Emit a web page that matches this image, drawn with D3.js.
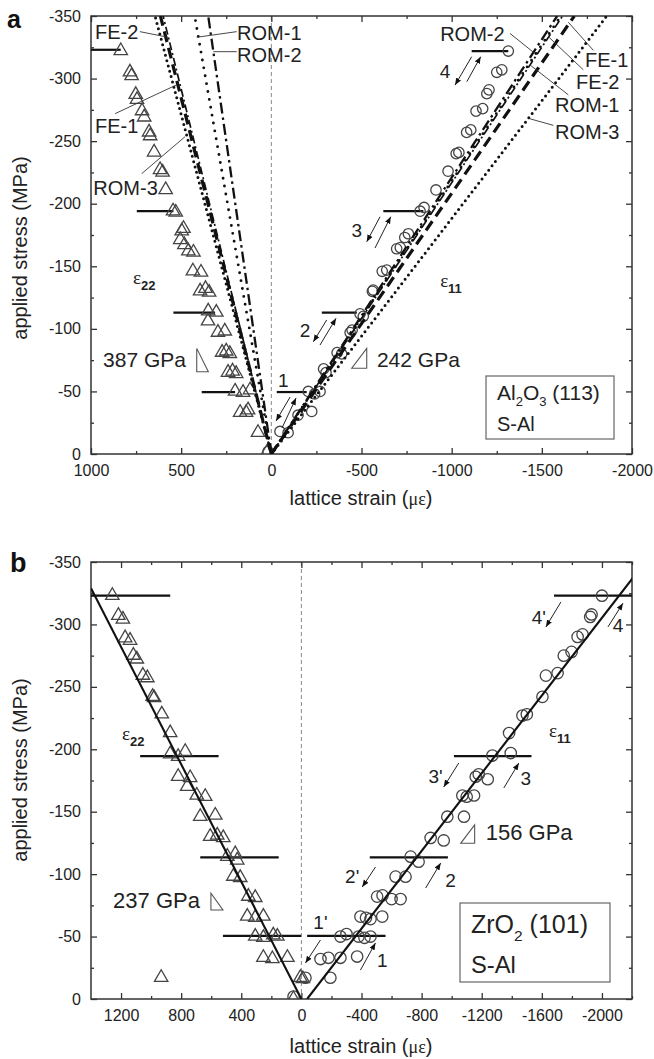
<!DOCTYPE html>
<html>
<head>
<meta charset="utf-8">
<script src="https://cdn.jsdelivr.net/npm/d3@7"></script>
<style>
body { margin: 0; background: #fff; }
svg { display: block; font-family: "Liberation Sans", Arial, sans-serif; }
</style>
</head>
<body>
<svg id="chart" width="654" height="1059"></svg>
<script>
// ---- panel a : Al2O3 (113), [strain (µε), stress (MPa)] ----
let a22 = [[835,-323],[784,-306],[775,-303],[752,-288],[745,-284],[717,-275],[705,-270],
    [678,-258],[672,-255],[650,-242],[617,-228],[603,-226],[586,-212],[545,-195],[530,-194],
    [497,-179],[487,-181],[505,-172],[482,-168],[460,-163],[432,-162],[435,-147],[390,-146],
    [395,-131],[345,-130],[365,-133],[350,-115],[305,-114],[351,-107],[296,-98],[258,-99],
    [273,-82],[230,-81],[250,-83],[240,-66],[195,-65],[215,-67],[201,-51],[157,-50],[118,-52],
    [173,-34],[140,-34],[129,-36],[74,-18],[25,-2]]
let a11 = [[18,-2],[-48,-18],[-93,-17],[-148,-31],[-224,-34],[-205,-50],[-270,-50],[-240,-48],
    [-303,-65],[-290,-68],[-365,-81],[-390,-80],[-437,-97],[-448,-99],[-492,-112],[-510,-110],
    [-560,-130],[-565,-131],[-615,-146],[-640,-147],[-695,-164],[-715,-165],[-740,-173],[-760,-176],
    [-825,-194],[-847,-197],[-913,-211],[-980,-226],[-1025,-240],[-1040,-241],[-1083,-257],[-1106,-259],
    [-1135,-274],[-1172,-276],[-1195,-288],[-1207,-291],[-1250,-305],[-1278,-307],[-1314,-322]]

// model predictions: strain reached at -350 MPa, left (e22) and right (e11)
let predNames = ['ROM-3', 'FE-1', 'FE-2', 'ROM-1', 'ROM-2']
let predE22 = [645, 615, 600, 425, 350]
let predE11 = [-1860, -1680, -1615, -1605, -1585]

// load levels: [stress, strain from, strain to]
let aLevels = [[-323,1000,835],[-194,746,543],[-113,543,312],[-49.5,386,201],
    [-49.5,-30,-196],[-113,-280,-474],[-194,-621,-843],[-322,-1111,-1314]]

// ---- panel b : ZrO2 (101) ----
let b22 = [[1258,-324],[1218,-308],[1188,-305],[1173,-290],[1140,-288],[1118,-276],[1095,-273],
    [1055,-260],[1025,-258],[990,-243],[980,-242],[929,-229],[873,-214],[873,-197],[820,-195],
    [773,-199],[820,-179],[740,-178],[760,-171],[696,-164],[640,-163],[673,-147],[573,-148],
    [607,-131],[560,-132],[520,-130],[493,-115],[440,-117],[427,-112],[453,-99],[407,-98],
    [353,-83],[307,-82],[360,-67],[307,-66],[253,-67],[307,-51],[253,-50],[187,-52],[160,-51],
    [253,-34],[193,-33],[93,-34],[933,-18],[7,-18],[-10,-17],[53,-1]]
let b11 = [[52,-2],[-27,-17],[-193,-17],[-127,-32],[-180,-33],[-260,-33],[-371,-34],
    [-260,-50],[-300,-52],[-380,-50],[-420,-49],[-460,-50],[-393,-66],[-430,-65],[-460,-64],[-538,-66],
    [-504,-82],[-540,-83],[-600,-80],[-660,-80],[-627,-98],[-693,-98],[-727,-114],[-780,-110],
    [-860,-129],[-947,-127],[-971,-146],[-1082,-146],[-1071,-163],[-1149,-163],[-1100,-162],
    [-1160,-178],[-1240,-176],[-1180,-180],[-1271,-195],[-1393,-197],[-1382,-213],[-1471,-227],
    [-1500,-228],[-1604,-242],[-1627,-259],[-1705,-261],[-1746,-275],[-1798,-278],[-1838,-290],
    [-1871,-292],[-1922,-306],[-1931,-308],[-2000,-323]]

// linear fits [strain, stress] end points
let bFit22 = [[0,0],[1400,-329]]
let bFit11 = [[-38,0],[-2210,-338]]

let bLevels = [[-323,1400,873],[-194.6,1073,551],[-113.5,673,151],[-50.5,522,2],
    [-50.5,-38,-560],[-113.5,-455,-975],[-194.6,-1015,-1531],[-323,-1681,-2200]]

// arrows [x1, y1, x2, y2] in data units, labels [text, x, y]
let aArrows = [[-104,-45.5,-26,-26.4],[-59,-20.8,-137,-44.7],[-307,-107.1,-233,-89.7],[-270,-87.1,-359,-108.4],
    [-603,-189.6,-529,-169.6],[-575,-164.6,-662,-189.6],[-1111,-317.5,-1019,-294.8],[-1084,-297.5,-1161,-317.5]]
let aArrowText = [['1',-66,-59],['2',-187,-99],['3',-474,-179],['4',-963,-305.5]]
let bArrows = [[-127,-47.3,-27,-28.8],[-393,-23.2,-493,-44.9],[-493,-105.7,-405,-89.7],[-827,-88.9,-927,-108.9],
    [-1047,-189,-947,-169.8],[-1347,-169,-1447,-189],[-1727,-318,-1627,-298],[-2040,-298,-2140,-317]]
let bArrowText = [["1'",-127,-61],['1',-538,-31],["2'",-338,-98],['2',-993,-95],
    ["3'",-893,-178],['3',-1493,-177],["4'",-1580,-306],['4',-2107,-299.5]]

let L = 91, R = 632
let svg = d3.select('#chart')
let defs = svg.append('defs')
defs.append('marker')
    .attr('id', 'head')
    .attr('viewBox', '0 0 10 10')
    .attr('refX', 10).attr('refY', 5)
    .attr('markerWidth', 7).attr('markerHeight', 7)
    .attr('markerUnits', 'userSpaceOnUse')
    .attr('orient', 'auto')
    .append('path').attr('d', 'M0,1L10,5L0,9Z').attr('fill', '#111')

let triangle = d3.symbol().type(d3.symbolTriangle).size(78)

function drawPanel(p) {
    let x = d3.scaleLinear().domain(p.xDomain).range([L, R])
    let y = d3.scaleLinear().domain([0, -350]).range([p.bottom, p.top])
    let g = svg.append('g')

    defs.append('clipPath').attr('id', 'clip-' + p.id)
        .append('rect').attr('x', L).attr('y', p.top).attr('width', R - L).attr('height', p.bottom - p.top)

    // dashed zero line
    g.append('line')
        .attr('x1', x(0)).attr('x2', x(0)).attr('y1', p.top).attr('y2', p.bottom)
        .attr('stroke', '#888').attr('stroke-width', 1).attr('stroke-dasharray', '4,3')

    // axes, ticks inward
    let yMajor = d3.range(-350, 1, 50), yMinor = d3.range(-325, 0, 50)
    let axes = [
        [d3.axisBottom(x).tickValues(p.xMajor).tickSize(-6).tickPadding(11).tickFormat(d => String(d)), p.bottom],
        [d3.axisBottom(x).tickValues(p.xMinor).tickSize(-3).tickFormat(''), p.bottom],
        [d3.axisTop(x).tickValues(p.xMajor).tickSize(-6).tickFormat(''), p.top],
        [d3.axisTop(x).tickValues(p.xMinor).tickSize(-3).tickFormat(''), p.top]
    ]
    axes.forEach(function(a) {
        g.append('g').attr('transform', 'translate(0,' + a[1] + ')').call(a[0])
    })
    let yAxes = [
        [d3.axisLeft(y).tickValues(yMajor).tickSize(-6).tickPadding(10).tickFormat(d => String(d)), L],
        [d3.axisLeft(y).tickValues(yMinor).tickSize(-3).tickFormat(''), L],
        [d3.axisRight(y).tickValues(yMajor).tickSize(-6).tickFormat(''), R],
        [d3.axisRight(y).tickValues(yMinor).tickSize(-3).tickFormat(''), R]
    ]
    yAxes.forEach(function(a) {
        g.append('g').attr('transform', 'translate(' + a[1] + ',0)').call(a[0])
    })
    g.selectAll('.domain').remove()
    g.selectAll('.tick line').attr('stroke', '#333').attr('stroke-width', 1.3)
    g.selectAll('.tick text').attr('font-size', 16).attr('fill', '#222').attr('font-family', '"Liberation Sans", Arial, sans-serif')

    g.append('rect')
        .attr('x', L).attr('y', p.top).attr('width', R - L).attr('height', p.bottom - p.top)
        .attr('fill', 'none').attr('stroke', '#333').attr('stroke-width', 1.5)

    let plot = g.append('g').attr('clip-path', 'url(#clip-' + p.id + ')')

    // load levels
    plot.selectAll('line.level').data(p.levels).enter().append('line')
        .attr('x1', d => x(d[1])).attr('x2', d => x(d[2]))
        .attr('y1', d => y(d[0])).attr('y2', d => y(d[0]))
        .attr('stroke', '#111').attr('stroke-width', 2.2)

    // markers
    plot.selectAll('path.tri').data(p.e22).enter().append('path')
        .attr('d', triangle)
        .attr('transform', d => 'translate(' + x(d[0]) + ',' + (y(d[1]) + 1) + ')')
        .attr('fill', 'none').attr('stroke', '#444').attr('stroke-width', 1.3)
    plot.selectAll('circle.pt').data(p.e11).enter().append('circle')
        .attr('cx', d => x(d[0])).attr('cy', d => y(d[1])).attr('r', p.r)
        .attr('fill', 'none').attr('stroke', '#444').attr('stroke-width', 1.3)

    // arrows
    g.selectAll('line.arrow').data(p.arrows).enter().append('line')
        .attr('x1', d => x(d[0])).attr('y1', d => y(d[1]))
        .attr('x2', d => x(d[2])).attr('y2', d => y(d[3]))
        .attr('stroke', '#222').attr('stroke-width', 1)
        .attr('marker-end', 'url(#head)')
    g.selectAll('text.arrow').data(p.arrowText).enter().append('text')
        .attr('x', d => x(d[1])).attr('y', d => y(d[2]))
        .attr('text-anchor', 'middle').attr('dy', '0.35em')
        .attr('font-size', 19).attr('fill', '#222')
        .text(d => d[0])

    return {g: g, plot: plot, x: x, y: y}
}

function epsLabel(g, px, py, sub) {
    let t = g.append('text').attr('x', px).attr('y', py).attr('fill', '#222')
    t.append('tspan').attr('font-family', '"Liberation Serif", "Times New Roman", serif').attr('font-size', 19).text('ε')
    t.append('tspan').attr('dy', 6).attr('font-size', 13).attr('font-weight', 'bold').text(sub)
}

function gpaLabel(g, px, py, label, size, tri) {
    g.append('text').attr('x', px).attr('y', py).attr('font-size', size).attr('fill', '#222').text(label)
    g.append('path').attr('d', d3.line()(tri) + 'Z')
        .attr('fill', 'none').attr('stroke', '#555').attr('stroke-width', 1.1)
}

function legendBox(g, x0, y0, w, h, main, size) {
    g.append('rect').attr('x', x0).attr('y', y0).attr('width', w).attr('height', h)
        .attr('fill', '#fff').attr('stroke', '#666').attr('stroke-width', 1.2)
    let t = g.append('text').attr('x', x0 + 11).attr('y', y0 + h * 0.38).attr('font-size', size).attr('fill', '#222')
    main.forEach(function(part) {
        if (part[1]) t.append('tspan').attr('font-size', size * 0.62).attr('dy', size * 0.3).text(part[0])
        else t.append('tspan').attr('dy', part[2] || 0).text(part[0])
    })
    g.append('text').attr('x', x0 + 11).attr('y', y0 + h * 0.88).attr('font-size', size * 0.95).attr('fill', '#222').text('S-Al')
}

function axisTitles(yCenter, xBase) {
    svg.append('text')
        .attr('transform', 'translate(27,' + yCenter + ') rotate(-90)')
        .attr('text-anchor', 'middle').attr('font-size', 20).attr('fill', '#222')
        .text('applied stress (MPa)')
    let t = svg.append('text').attr('x', 361).attr('y', xBase).attr('text-anchor', 'middle').attr('font-size', 20).attr('fill', '#222')
    t.append('tspan').text('lattice strain (')
    t.append('tspan').attr('font-family', '"Liberation Serif", "Times New Roman", serif').attr('font-size', 18).text('με')
    t.append('tspan').text(')')
}

// ---------------- panel a ----------------
let pa = drawPanel({
    id: 'a', top: 16, bottom: 454, xDomain: [1000, -2000],
    xMajor: d3.range(1000, -2001, -500), xMinor: d3.range(750, -1800, -500),
    levels: aLevels, e22: a22, e11: a11, r: 5.2, arrows: aArrows, arrowText: aArrowText
})

let predStyle = {
    'ROM-3': {dash: '0,5.5', w: 3, cap: 'round'},
    'FE-1': {dash: '11,6', w: 3.2, cap: 'butt'},
    'FE-2': {dash: '8,3,2,3', w: 1.7, cap: 'butt'},
    'ROM-1': {dash: '0,8', w: 2.9, cap: 'round'},
    'ROM-2': {dash: '11,4,2.5,4', w: 2.3, cap: 'butt'}
}
let predLine = d3.line().x(d => pa.x(d[0])).y(d => pa.y(d[1]))
predNames.forEach(function(name, i) {
    let s = predStyle[name]
    ;[[[0, 0], [predE22[i], -350]], [[0, 0], [predE11[i], -350]]].forEach(function(pts) {
        pa.plot.append('path').attr('d', predLine(pts))
            .attr('fill', 'none').attr('stroke', '#111')
            .attr('stroke-width', s.w).attr('stroke-dasharray', s.dash).attr('stroke-linecap', s.cap)
    })
})

// line labels with leaders: [text, x, y, leader from, leader to]
let aNotes = [
    ['FE-2', 978, -332, [729, -337.5], [572, -333]],
    ['ROM-1', 190, -330.5, [192, -337.5], [414, -333]],
    ['ROM-2', 190, -313, [192, -321.5], [322, -321.5]],
    ['FE-1', 978, -256.5, [866, -272], [525, -295]],
    ['ROM-3', 987, -207, [719, -224], [479, -253.5]],
    ['ROM-2', -936, -330.3, [-1324, -336], [-1462, -320]],
    ['FE-1', -1739, -309.3, [-1647, -345], [-1786, -322.5]],
    ['FE-2', -1690, -291.7, [-1536, -333.5], [-1730, -307]],
    ['ROM-1', -1573, -273.5, [-1435, -310.8], [-1647, -287]],
    ['ROM-3', -1573, -251.7, [-1431, -268], [-1564, -262.6]]
]
aNotes.forEach(function(n) {
    pa.g.append('line')
        .attr('x1', pa.x(n[3][0])).attr('y1', pa.y(n[3][1]))
        .attr('x2', pa.x(n[4][0])).attr('y2', pa.y(n[4][1]))
        .attr('stroke', '#333').attr('stroke-width', 0.9)
    pa.g.append('text').attr('x', pa.x(n[1])).attr('y', pa.y(n[2]))
        .attr('font-size', 20).attr('fill', '#222').text(n[0])
})

epsLabel(pa.g, pa.x(767), pa.y(-135.8), '22')
epsLabel(pa.g, pa.x(-936), pa.y(-133.4), '11')
gpaLabel(pa.g, pa.x(933), pa.y(-69.5), '387 GPa', 21,
    [[pa.x(413.7), pa.y(-84.4)], [pa.x(413.7), pa.y(-65.7)], [pa.x(349.3), pa.y(-65.7)]])
gpaLabel(pa.g, pa.x(-585.6), pa.y(-69.5), '242 GPa', 21,
    [[pa.x(-529), pa.y(-84.4)], [pa.x(-529), pa.y(-68.5)], [pa.x(-445.8), pa.y(-68.5)]])
legendBox(pa.g, 486, 376, 128, 63, [['Al'], ['2', true], ['O', false, -6.5], ['3', true], [' (113)', false, -6.5]], 21)

axisTitles(248, 505)
svg.append('text').attr('x', 7).attr('y', 28).attr('font-size', 25).attr('font-weight', 'bold').attr('fill', '#111').text('a')

// ---------------- panel b ----------------
let pb = drawPanel({
    id: 'b', top: 562, bottom: 999, xDomain: [1400, -2200],
    xMajor: d3.range(1200, -2001, -400), xMinor: d3.range(1000, -2201, -400),
    levels: bLevels, e22: b22, e11: b11, r: 5.7, arrows: bArrows, arrowText: bArrowText
})
let fitLine = d3.line().x(d => pb.x(d[0])).y(d => pb.y(d[1]))
;[bFit22, bFit11].forEach(function(pts) {
    pb.plot.append('path').attr('d', fitLine(pts))
        .attr('fill', 'none').attr('stroke', '#111').attr('stroke-width', 2.1)
})
epsLabel(pb.g, pb.x(1193), pb.y(-207.4), '22')
epsLabel(pb.g, pb.x(-1647), pb.y(-209.8), '11')
gpaLabel(pb.g, pb.x(1253), pb.y(-72.9), '237 GPa', 22,
    [[pb.x(602), pb.y(-84.7)], [pb.x(602), pb.y(-71.3)], [pb.x(522), pb.y(-71.3)]])
gpaLabel(pb.g, pb.x(-1227), pb.y(-127.3), '156 GPa', 22,
    [[pb.x(-1153), pb.y(-139.4)], [pb.x(-1153), pb.y(-124.7)], [pb.x(-1060), pb.y(-124.7)]])
legendBox(pb.g, 460, 903, 150, 79, [['ZrO'], ['2', true], [' (101)', false, -7.5]], 25)

axisTitles(770, 1053)
svg.append('text').attr('x', 10).attr('y', 572).attr('font-size', 27).attr('font-weight', 'bold').attr('fill', '#111').text('b')
</script>
</body>
</html>
